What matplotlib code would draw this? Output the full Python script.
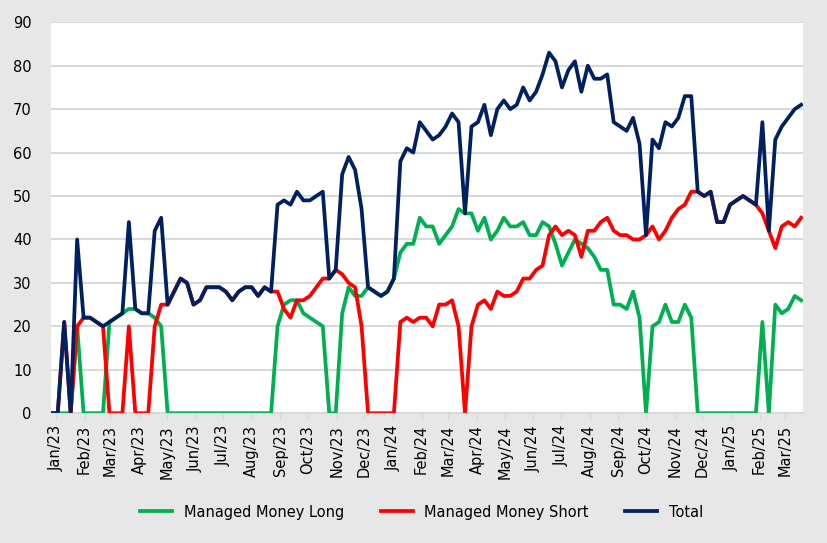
import matplotlib.pyplot as plt
import matplotlib.dates as mdates
import numpy as np
import pandas as pd

# weekly positioning data, starting 27 Dec 2022
dates = pd.date_range("2022-12-27", periods=117, freq="7D")

long_pos = [0, 0, 0, 0, 20, 0, 0, 0, 0, 21, 22, 23, 24, 24, 23, 23, 22, 20, 0, 0,
            0, 0, 0, 0, 0, 0, 0, 0, 0, 0, 0, 0, 0, 0, 0, 20, 25, 26, 26, 23,
            22, 21, 20, 0, 0, 23, 29, 27, 27, 29, 28, 27, 28, 31, 37, 39, 39, 45, 43, 43,
            39, 41, 43, 47, 46, 46, 42, 45, 40, 42, 45, 43, 43, 44, 41, 41, 44, 43, 39, 34,
            37, 40, 39, 38, 36, 33, 33, 25, 25, 24, 28, 22, 0, 20, 21, 25, 21, 21, 25, 22,
            0, 0, 0, 0, 0, 0, 0, 0, 0, 0, 21, 0, 25, 23, 24, 27, 26]

short_pos = [0, 0, 21, 0, 20, 22, 22, 21, 20, 0, 0, 0, 20, 0, 0, 0, 20, 25, 25, 28,
             31, 30, 25, 26, 29, 29, 29, 28, 26, 28, 29, 29, 27, 29, 28, 28, 24, 22, 26, 26,
             27, 29, 31, 31, 33, 32, 30, 29, 20, 0, 0, 0, 0, 0, 21, 22, 21, 22, 22, 20,
             25, 25, 26, 20, 0, 20, 25, 26, 24, 28, 27, 27, 28, 31, 31, 33, 34, 41, 43, 41,
             42, 41, 36, 42, 42, 44, 45, 42, 41, 41, 40, 40, 41, 43, 40, 42, 45, 47, 48, 51,
             51, 50, 51, 44, 44, 48, 49, 50, 49, 48, 46, 42, 38, 43, 44, 43, 45]

total_pos = [0, 0, 21, 0, 40, 22, 22, 21, 20, 21, 22, 23, 44, 24, 23, 23, 42, 45, 25, 28,
             31, 30, 25, 26, 29, 29, 29, 28, 26, 28, 29, 29, 27, 29, 28, 48, 49, 48, 51, 49,
             49, 50, 51, 31, 33, 55, 59, 56, 47, 29, 28, 27, 28, 31, 58, 61, 60, 67, 65, 63,
             64, 66, 69, 67, 46, 66, 67, 71, 64, 70, 72, 70, 71, 75, 72, 74, 78, 83, 81, 75,
             79, 81, 74, 80, 77, 77, 78, 67, 66, 65, 68, 62, 41, 63, 61, 67, 66, 68, 73, 73,
             51, 50, 51, 44, 44, 48, 49, 50, 49, 48, 67, 42, 63, 66, 68, 70, 71]

bg = "#e7e7e7"
fig = plt.figure(figsize=(8.27, 5.43), dpi=100, facecolor=bg)
ax = fig.add_axes([0.062, 0.239, 0.909, 0.72])

ax.plot(dates, long_pos, color="#00b050", lw=2.7, label="Managed Money Long")
ax.plot(dates, short_pos, color="#ff0000", lw=2.7, label="Managed Money Short")
ax.plot(dates, total_pos, color="#002060", lw=2.7, label="Total")

ax.set_ylim(0, 90)
ax.set_yticks(np.arange(0, 91, 10))
ax.set_xlim(dates[0], dates[-1] + pd.Timedelta(days=2))
ax.xaxis.set_major_locator(mdates.MonthLocator())
ax.xaxis.set_major_formatter(mdates.DateFormatter("%b/%y"))
plt.setp(ax.get_xticklabels(), rotation=90)

ax.grid(axis="y", color="#d9d9d9", lw=1.5)
ax.set_axisbelow(True)
for s in ["top", "right", "left"]:
    ax.spines[s].set_visible(False)
ax.spines["bottom"].set_color("#d9d9d9")
ax.tick_params(axis="y", length=0, labelsize=10.5, pad=14)
ax.tick_params(axis="x", colors="#d9d9d9", labelcolor="black", labelsize=10.5, length=5)

fig.legend(loc="center", bbox_to_anchor=(0.51, 0.057), ncol=3, frameon=False,
           fontsize=10.5, handlelength=2.2, columnspacing=2.5)

fig.savefig("out.png", facecolor=bg)
